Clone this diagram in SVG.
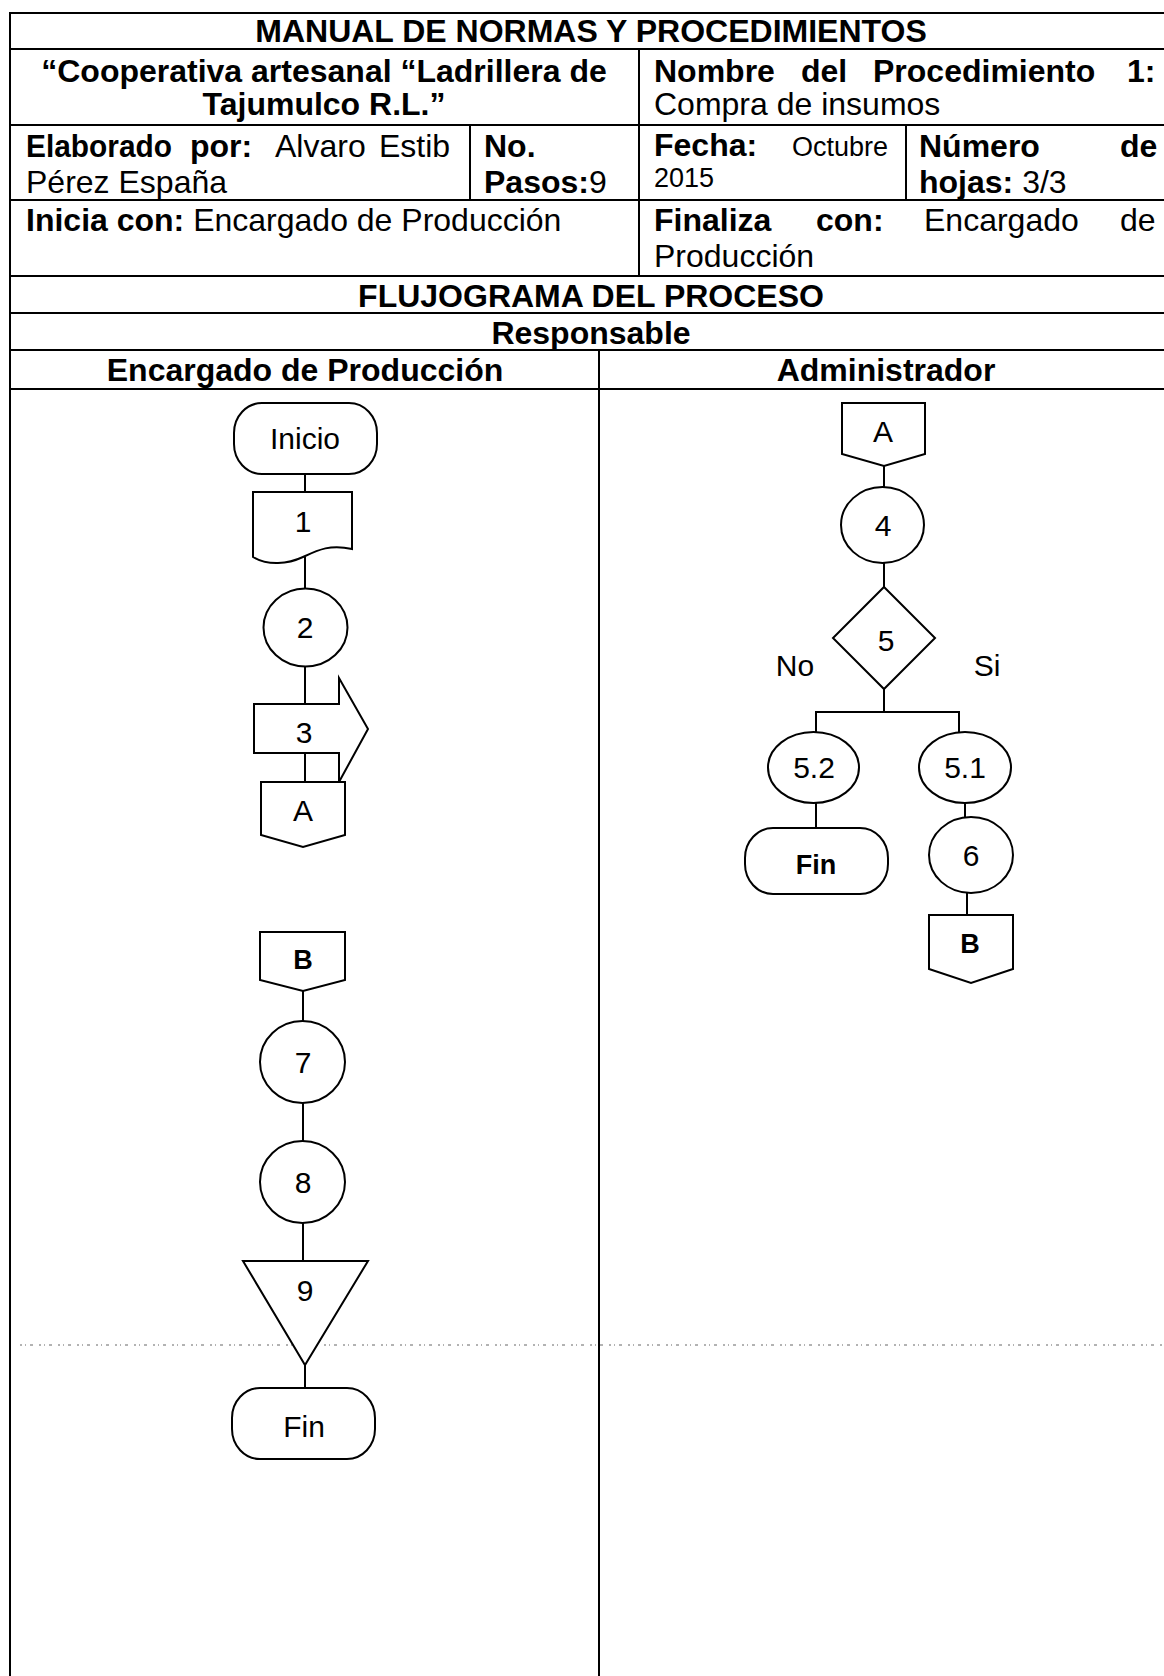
<svg xmlns="http://www.w3.org/2000/svg" width="1164" height="1676" viewBox="0 0 1164 1676">
<style>
text{font-family:"Liberation Sans",Arial,sans-serif;fill:#000}
.r{font-size:32px}
.b{font-size:32px;font-weight:bold}
.s{font-size:27px}
.m{text-anchor:middle}
.n{font-size:30px;text-anchor:middle}
.nb{font-size:27px;font-weight:bold;text-anchor:middle}
.ln{stroke:#000;stroke-width:2;fill:none}
.sh{stroke:#000;stroke-width:2;fill:#fff}
.cn{stroke:#000;stroke-width:2;fill:none}
</style>
<rect x="0" y="0" width="1164" height="1676" fill="#fff"/>
<g id="table">
<path class="ln" d="M9,13H1164M9,49H1164M9,125H1164M9,200H1164M9,276H1164M9,313H1164M9,350H1164M9,389H1164"/>
<path class="ln" d="M10,13V1676M639,49V276M470,125V200M906,125V200M599,350V1676"/>
<path d="M20,1345H1164" stroke="#666" stroke-width="1" stroke-dasharray="2 3 1 4 3 6" fill="none"/>
</g>
<g id="header">
<text class="b m" x="591" y="42">MANUAL DE NORMAS Y PROCEDIMIENTOS</text>
<text class="b m" x="324" y="82">“Cooperativa artesanal “Ladrillera de</text>
<text class="b m" x="324" y="115">Tajumulco R.L.”</text>
<text class="b" y="82"><tspan x="654">Nombre</tspan><tspan x="801">del</tspan><tspan x="873">Procedimiento</tspan><tspan x="1127">1:</tspan></text>
<text class="r" x="654" y="115">Compra de insumos</text>
<text y="157"><tspan class="b" x="26" textLength="146" lengthAdjust="spacingAndGlyphs">Elaborado</tspan><tspan class="b" x="190">por:</tspan><tspan class="r" x="275">Alvaro</tspan><tspan class="r" x="379">Estib</tspan></text>
<text class="r" x="26" y="193">Pérez España</text>
<text class="b" x="484" y="157">No.</text>
<text x="484" y="193"><tspan class="b">Pasos:</tspan><tspan class="r">9</tspan></text>
<text class="b" x="654" y="156">Fecha:</text>
<text class="s" x="888" y="156" text-anchor="end">Octubre</text>
<text class="s" x="654" y="187">2015</text>
<text class="b" y="157"><tspan x="919">Número</tspan><tspan x="1120">de</tspan></text>
<text x="919" y="193"><tspan class="b">hojas:</tspan><tspan class="r"> 3/3</tspan></text>
<text x="26" y="231"><tspan class="b">Inicia con:</tspan><tspan class="r"> Encargado de Producción</tspan></text>
<text y="231"><tspan class="b" x="654">Finaliza</tspan><tspan class="b" x="816">con:</tspan><tspan class="r" x="924">Encargado</tspan><tspan class="r" x="1120">de</tspan></text>
<text class="r" x="654" y="267">Producción</text>
<text class="b m" x="591" y="307">FLUJOGRAMA DEL PROCESO</text>
<text class="b m" x="591" y="344">Responsable</text>
<text class="b m" x="305" y="381">Encargado de Producción</text>
<text class="b m" x="886" y="381">Administrador</text>
</g>
<g id="connectors">
<path class="cn" d="M305,474V492M305,557V589M305,666V704M305,753V782"/>
<path class="cn" d="M303,991V1021M303,1103V1141M303,1223V1261M305,1365V1388"/>
<path class="cn" d="M884,466V487M884,563V587M884,689V712M816,732V712H959V732"/>
<path class="cn" d="M816,803V828M965,803V817M967,893V915"/>
</g>
<g id="n-inicio"><rect class="sh" x="234" y="403" width="143" height="71" rx="28" ry="30"/><text class="n" x="305" y="449">Inicio</text></g>
<g id="n-1"><path class="sh" d="M253,492H352V549C330,544 318,550 303,557C288,564 268,566 253,557Z"/><text class="n" x="303" y="532">1</text></g>
<g id="n-2"><ellipse class="sh" cx="305.5" cy="627.5" rx="42" ry="39"/><text class="n" x="305" y="638">2</text></g>
<g id="n-3"><path class="sh" d="M254,704H339V678L368,729L339,782V753H254Z"/><text class="n" x="304" y="743">3</text></g>
<g id="n-a1"><path class="sh" d="M261,782H345V835L303,847L261,835Z"/><text class="n" x="303" y="821">A</text></g>
<g id="n-b1"><path class="sh" d="M260,932H345V980L303,991L260,980Z"/><text class="nb" x="303" y="969">B</text></g>
<g id="n-7"><ellipse class="sh" cx="302.5" cy="1062" rx="42.5" ry="41"/><text class="n" x="303" y="1073">7</text></g>
<g id="n-8"><ellipse class="sh" cx="302.5" cy="1182" rx="42.5" ry="41"/><text class="n" x="303" y="1193">8</text></g>
<g id="n-9"><path class="sh" d="M243,1261H368L305,1365Z"/><text class="n" x="305" y="1301">9</text></g>
<g id="n-fin1"><rect class="sh" x="232" y="1388" width="143" height="71" rx="28" ry="30"/><text class="n" x="304" y="1437">Fin</text></g>
<g id="n-a2"><path class="sh" d="M842,403H925V454L884,466L842,454Z"/><text class="n" x="883" y="442">A</text></g>
<g id="n-4"><ellipse class="sh" cx="882.5" cy="525" rx="41.5" ry="38"/><text class="n" x="883" y="536">4</text></g>
<g id="n-5"><path class="sh" d="M884,587L935,638L884,689L833,638Z"/><text class="n" x="886" y="651">5</text></g>
<g id="labels"><text class="n" x="795" y="676">No</text><text class="n" x="987" y="676">Si</text></g>
<g id="n-52"><ellipse class="sh" cx="813.5" cy="767.5" rx="45.5" ry="35.5"/><text class="n" x="814" y="778">5.2</text></g>
<g id="n-51"><ellipse class="sh" cx="965" cy="767.5" rx="46" ry="35.5"/><text class="n" x="965" y="778">5.1</text></g>
<g id="n-fin2"><rect class="sh" x="745" y="828" width="143" height="66" rx="28" ry="30"/><text class="nb" x="816" y="874">Fin</text></g>
<g id="n-6"><ellipse class="sh" cx="971" cy="855" rx="42" ry="38"/><text class="n" x="971" y="866">6</text></g>
<g id="n-b2"><path class="sh" d="M929,915H1013V969L971,983L929,969Z"/><text class="nb" x="970" y="953">B</text></g>
</svg>
